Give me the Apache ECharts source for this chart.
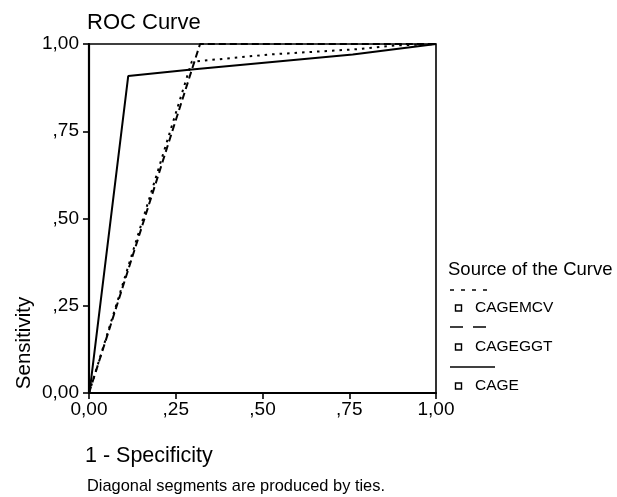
<!DOCTYPE html>
<html>
<head>
<meta charset="utf-8">
<script src="https://cdn.jsdelivr.net/npm/echarts@6/dist/echarts.min.js"></script>
<style>html,body{margin:0;padding:0;background:#fff;}#c{width:617px;height:497px;}</style>
</head>
<body>
<div id="c"></div>
<script>
// ---- data ----
const seriesNames = ['CAGEMCV', 'CAGEGGT', 'CAGE'];
const fprCagemcv = [0, 0.296, 0.52, 0.77, 0.88, 1];
const tprCagemcv = [0, 0.949, 0.97, 0.985, 0.996, 1];
const fprCageggt = [0, 0.32, 1];
const tprCageggt = [0, 1, 1];
const fprCage = [0, 0.005, 0.113, 0.296, 0.76, 1];
const tprCage = [0, 0.03, 0.908, 0.927, 0.97, 1];
const tickValues = [0, 0.25, 0.5, 0.75, 1];
const tickLabels = ['0,00', ',25', ',50', ',75', '1,00'];

const FONT = 'Liberation Sans';
function pairs(xs, ys) { return xs.map((x, i) => [x, ys[i]]); }
function fmt(v) {
  const i = tickValues.findIndex(t => Math.abs(t - v) < 1e-9);
  return i >= 0 ? tickLabels[i] : '';
}

const chart = echarts.init(document.getElementById('c'), null, {renderer: 'canvas'});
const GL = 89, GT = 44, GW = 347, GH = 349;

const lineStyles = [
  {color: '#000', width: 2, type: [2.5, 5]},
  {color: '#000', width: 2, type: [7, 4]},
  {color: '#000', width: 2, type: 'solid'}
];
const dataSets = [pairs(fprCagemcv, tprCagemcv), pairs(fprCageggt, tprCageggt), pairs(fprCage, tprCage)];

// legend graphics
const legendX = 450;
const legendSampleY = [290, 327, 367];
const legendTextY = [308, 347, 386];
const legendSampleLen = [38, 40, 45];
const legendDash = [[4, 7], [13, 10], null];
const gfx = [
  {type: 'text', x: 448, y: 270, style: {text: 'Source of the Curve', font: '18.5px "' + FONT + '"', fill: '#000', verticalAlign: 'middle'}},
  {type: 'text', x: 85, y: 456, style: {text: '1 - Specificity', font: '21.5px "' + FONT + '"', fill: '#000', verticalAlign: 'middle', align: 'left'}},
  {type: 'text', x: 87, y: 486, style: {text: 'Diagonal segments are produced by ties.', font: '16.4px "' + FONT + '"', fill: '#000', verticalAlign: 'middle', align: 'left'}},
  {type: 'text', x: 24, y: 343, rotation: Math.PI / 2, style: {text: 'Sensitivity', font: '20.5px "' + FONT + '"', fill: '#000', verticalAlign: 'middle', align: 'center'}}
];
seriesNames.forEach((n, i) => {
  gfx.push({type: 'line', shape: {x1: legendX, y1: legendSampleY[i], x2: legendX + legendSampleLen[i], y2: legendSampleY[i]},
    style: {stroke: '#000', lineWidth: 1.6, lineDash: legendDash[i]}});
  gfx.push({type: 'rect', shape: {x: 455.5, y: legendTextY[i] - 3, width: 6, height: 6},
    style: {stroke: '#000', fill: '#fff', lineWidth: 1.4}});
  gfx.push({type: 'text', x: 475, y: legendTextY[i], style: {text: n, font: '15.5px "' + FONT + '"', fill: '#000', verticalAlign: 'middle'}});
});

chart.setOption({
  animation: false,
  backgroundColor: '#fff',
  title: {text: 'ROC Curve', left: 82, top: 7, textStyle: {fontFamily: FONT, fontSize: 22, fontWeight: 'normal', color: '#000'}},
  grid: {left: GL, top: GT, width: GW, height: GH, show: true, borderColor: '#000', borderWidth: 1.6, backgroundColor: 'transparent'},
  xAxis: {
    type: 'value', min: 0, max: 1, interval: 0.25,
    axisLine: {show: true, lineStyle: {color: '#000', width: 2.2}},
    axisTick: {show: true, length: 6, lineStyle: {color: '#000', width: 1.6}},
    splitLine: {show: false},
    axisLabel: {formatter: fmt, fontFamily: FONT, fontSize: 19, color: '#000', margin: 7}
  },
  yAxis: {
    type: 'value', min: 0, max: 1, interval: 0.25,
    axisLine: {show: true, lineStyle: {color: '#000', width: 2.2}},
    axisTick: {show: true, length: 6, lineStyle: {color: '#000', width: 1.6}},
    splitLine: {show: false},
    axisLabel: {formatter: fmt, fontFamily: FONT, fontSize: 19, color: '#000', margin: 10}
  },
  series: seriesNames.map((n, i) => ({
    name: n, type: 'line', data: dataSets[i], showSymbol: false, symbol: 'none',
    lineStyle: lineStyles[i], z: 3 - i
  })),
  graphic: gfx
});
</script>
</body>
</html>
